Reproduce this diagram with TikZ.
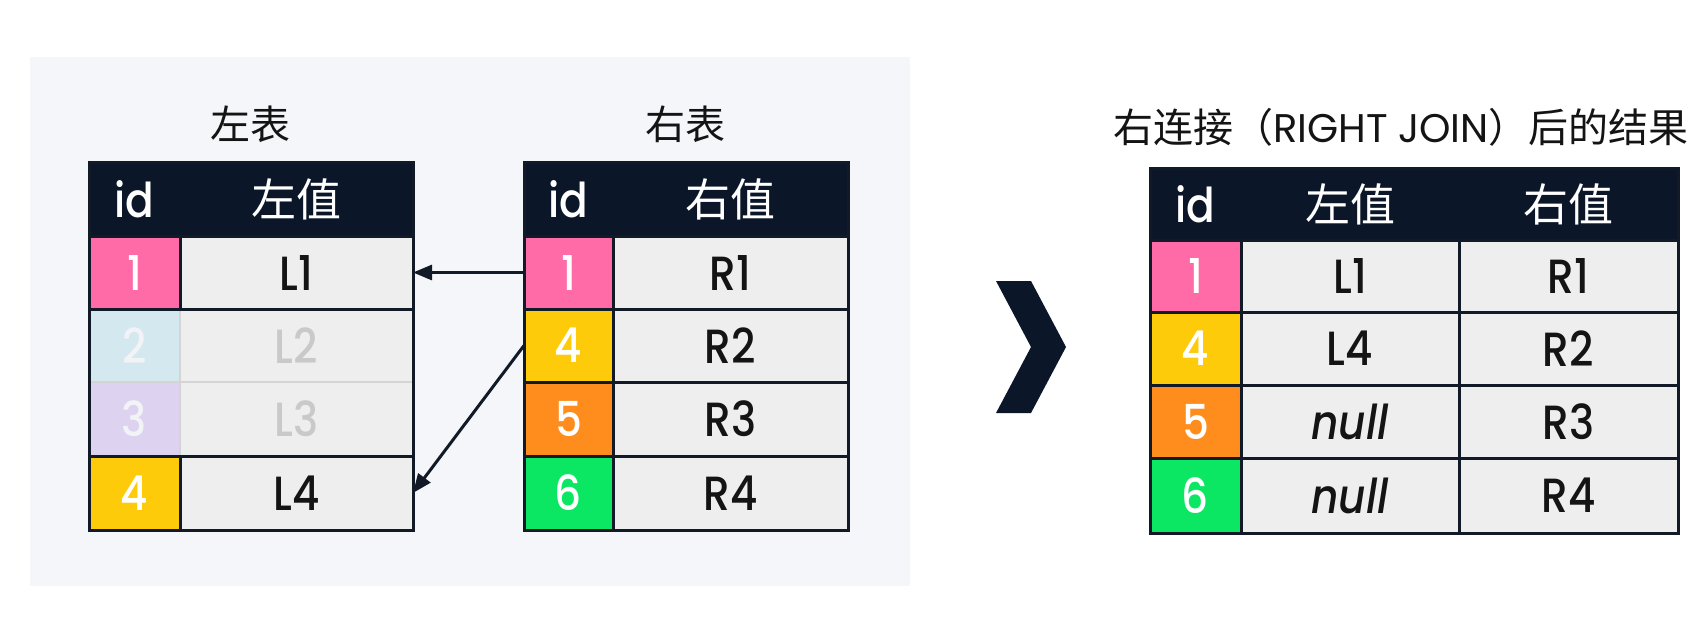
\documentclass[tikz,border=0pt]{standalone}
\usepackage{fontspec}
\setmainfont{Poppins}
\newfontfamily\popm{Poppins Medium}[FakeStretch=0.88, ItalicFont={Poppins Medium Italic}]
\newfontfamily\cjk{Noto Sans CJK SC}
\usetikzlibrary{arrows.meta}
\definecolor{navy}{HTML}{0B1729}
\definecolor{gridc}{HTML}{111A26}
\definecolor{panelc}{HTML}{F5F6FA}
\definecolor{cellc}{HTML}{EEEEEE}
\definecolor{pinkc}{HTML}{FF6BA6}
\definecolor{yellowc}{HTML}{FDCB0A}
\definecolor{orangec}{HTML}{FF8D1E}
\definecolor{greenc}{HTML}{0BE763}
\definecolor{fadeblue}{HTML}{D4E8EF}
\definecolor{fadelav}{HTML}{DDD2F0}
\definecolor{fadeline}{HTML}{D4D4D4}
\definecolor{fadetxt}{HTML}{C9C9C9}
\definecolor{fadeid}{HTML}{F1F3F6}
\definecolor{textc}{HTML}{141414}
\newcommand\tcell[7]{%
  \pgfmathsetmacro\cellw{#4-#2}\pgfmathsetmacro\cellh{#5-#3}%
  \node[cellbase, fill=#6, minimum width=\cellw pt, minimum height=\cellh pt]
    (#1) at ({(#2+#4)/2},{(#3+#5)/2}) {#7};}
\newcommand\hzh[1]{{\cjk\fontsize{45}{50}\selectfont #1}}
\begin{document}
\begin{tikzpicture}[x=1pt,y=-1pt,
  cellbase/.style={inner sep=0pt, outer sep=0pt, draw=none, text=textc,
    font=\popm\fontsize{48}{54}\selectfont},
  gridline/.style={draw=gridc, line width=3pt, line cap=rect},
  fadegrid/.style={draw=fadeline, line width=2.5pt},
  arrowline/.style={draw=gridc, line width=3pt, -{Triangle[length=19pt,width=15pt]}},
  titletxt/.style={inner sep=0pt, text=textc, font=\fontsize{40}{46}\selectfont}]
\useasboundingbox (0,0) rectangle (1704,624);
\fill[white] (0,0) rectangle (1704,624);
\fill[panelc] (30,57) rectangle (910,586);

% titles
\node[titletxt] (tL) at (250,124) {\cjk 左表};
\node[titletxt] (tR) at (685,124) {\cjk 右表};
\node[titletxt] (tJ) at (1401,127) {{\cjk 右连接（}RIGHT JOIN{\cjk ）后的结果}};

% ---------------- left table
\tcell{Lhid}{89}{162}{180}{236}{navy}{\textcolor{white}{id}}
\tcell{Lhv}{180}{162}{413}{236}{navy}{\textcolor{white}{\hzh{左值}}}
\tcell{L1id}{89}{236}{180}{309}{pinkc}{\textcolor{white}{1}}
\tcell{L1v}{180}{236}{413}{309}{cellc}{L1}
\tcell{L2id}{89}{309}{180}{382}{fadeblue}{\textcolor{fadeid}{2}}
\tcell{L2v}{180}{309}{413}{382}{cellc}{\textcolor{fadetxt}{L2}}
\tcell{L3id}{89}{382}{180}{456}{fadelav}{\textcolor{fadeid}{3}}
\tcell{L3v}{180}{382}{413}{456}{cellc}{\textcolor{fadetxt}{L3}}
\tcell{L4id}{89}{456}{180}{530}{yellowc}{\textcolor{white}{4}}
\tcell{L4v}{180}{456}{413}{530}{cellc}{L4}
% faded grid
\draw[fadegrid] (L2id.south west) -- (L2v.south east);
\draw[fadegrid] (L2id.north east) -- (L3id.south east);
% dark grid
\draw[gridline] (L1id.south west) -- (L1v.south east);
\draw[gridline] (L3id.south west) -- (L3v.south east);
\draw[gridline] (L1id.north east) -- (L1id.south east);
\draw[gridline] (L4id.north east) -- (L4id.south east);
\draw[gridline] (L1id.north west) -- (L1v.north east);
\draw[gridline] (Lhid.north west) rectangle (L4v.south east);

% ---------------- right table
\tcell{Rhid}{524}{162}{613}{236}{navy}{\textcolor{white}{id}}
\tcell{Rhv}{613}{162}{848}{236}{navy}{\textcolor{white}{\hzh{右值}}}
\tcell{R1id}{524}{236}{613}{309}{pinkc}{\textcolor{white}{1}}
\tcell{R1v}{613}{236}{848}{309}{cellc}{R1}
\tcell{R2id}{524}{309}{613}{382}{yellowc}{\textcolor{white}{4}}
\tcell{R2v}{613}{309}{848}{382}{cellc}{R2}
\tcell{R3id}{524}{382}{613}{456}{orangec}{\textcolor{white}{5}}
\tcell{R3v}{613}{382}{848}{456}{cellc}{R3}
\tcell{R4id}{524}{456}{613}{530}{greenc}{\textcolor{white}{6}}
\tcell{R4v}{613}{456}{848}{530}{cellc}{R4}
\foreach \r in {1,2,3}{\draw[gridline] (R\r id.south west) -- (R\r v.south east);}
\draw[gridline] (R1id.north west) -- (R1v.north east);
\draw[gridline] (R1id.north east) -- (R4id.south east);
\draw[gridline] (Rhid.north west) rectangle (R4v.south east);

% ---------------- arrows
\draw[arrowline] (R1id.west) -- (L1v.east);
\draw[arrowline] (R2id.west) -- (L4v.east);

% ---------------- chevron
\fill[navy] (996,281) -- (1031,281) -- (1066,347) -- (1031,413) -- (996,413) -- (1031,347) -- cycle;

% ---------------- result table
\tcell{Jhid}{1150}{168}{1241}{240}{navy}{\textcolor{white}{id}}
\tcell{Jhl}{1241}{168}{1459}{240}{navy}{\textcolor{white}{\hzh{左值}}}
\tcell{Jhr}{1459}{168}{1678}{240}{navy}{\textcolor{white}{\hzh{右值}}}
\tcell{J1id}{1150}{240}{1241}{312}{pinkc}{\textcolor{white}{1}}
\tcell{J1l}{1241}{240}{1459}{312}{cellc}{L1}
\tcell{J1r}{1459}{240}{1678}{312}{cellc}{R1}
\tcell{J2id}{1150}{312}{1241}{385}{yellowc}{\textcolor{white}{4}}
\tcell{J2l}{1241}{312}{1459}{385}{cellc}{L4}
\tcell{J2r}{1459}{312}{1678}{385}{cellc}{R2}
\tcell{J3id}{1150}{385}{1241}{458}{orangec}{\textcolor{white}{5}}
\tcell{J3l}{1241}{385}{1459}{458}{cellc}{\itshape null}
\tcell{J3r}{1459}{385}{1678}{458}{cellc}{R3}
\tcell{J4id}{1150}{458}{1241}{533}{greenc}{\textcolor{white}{6}}
\tcell{J4l}{1241}{458}{1459}{533}{cellc}{\itshape null}
\tcell{J4r}{1459}{458}{1678}{533}{cellc}{R4}
\foreach \r in {1,2,3}{\draw[gridline] (J\r id.south west) -- (J\r r.south east);}
\draw[gridline] (J1id.north west) -- (J1r.north east);
\draw[gridline] (J1id.north east) -- (J4id.south east);
\draw[gridline] (J1l.north east) -- (J4l.south east);
\draw[gridline] (Jhid.north west) rectangle (J4r.south east);
\end{tikzpicture}
\end{document}
